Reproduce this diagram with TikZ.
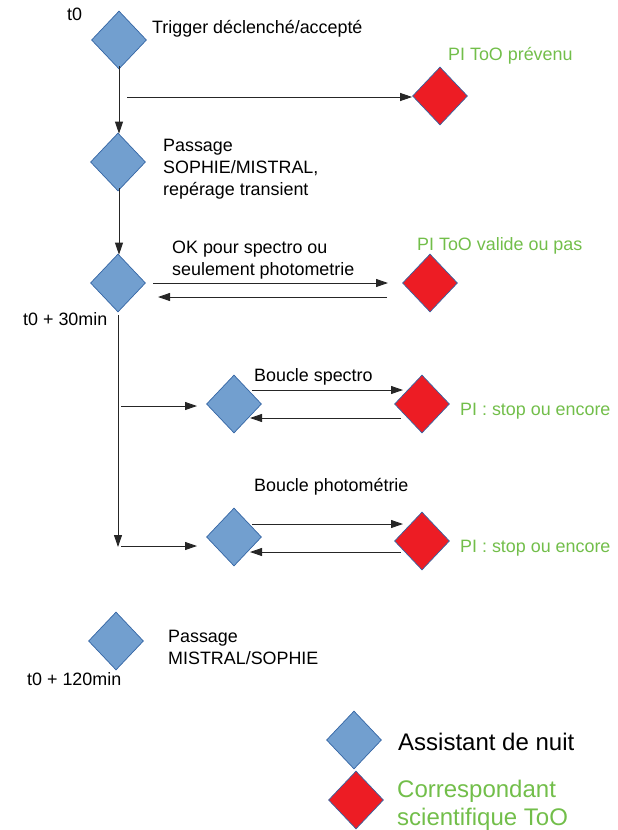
\documentclass[tikz,border=0pt]{standalone}
\usepackage{fontspec}
\setmainfont{Liberation Sans}
\usetikzlibrary{shapes.geometric,arrows.meta,calc}
\definecolor{dblue}{HTML}{729FCF}
\definecolor{dred}{HTML}{ED1C24}
\definecolor{dedge}{HTML}{3465A4}
\definecolor{pigreen}{HTML}{72BE4A}
\tikzset{
  dia/.style={diamond, draw=dedge, line width=0.7pt, inner sep=0pt, minimum width=55pt, minimum height=58pt},
  bdia/.style={dia, fill=dblue},
  rdia/.style={dia, fill=dred},
  lbl/.style={anchor=base west, inner sep=0pt, font=\fontsize{17.9}{21.8}\selectfont, align=left},
  glbl/.style={lbl, text=pigreen},
  big/.style={anchor=base west, inner sep=0pt, font=\fontsize{24}{28}\selectfont, align=left},
  arr/.style={draw=black!85, line width=0.9pt, -{Triangle[length=12pt,width=8pt]}}
}
\begin{document}
\begin{tikzpicture}[x=1pt,y=-1pt]
\useasboundingbox (0,0) rectangle (618,830);
% diamonds
\node[bdia] (D1) at (119,40) {};
\node[rdia] (R1) at (440,96) {};
\node[bdia] (D2) at (118,162) {};
\node[bdia] (D3) at (118,283) {};
\node[rdia] (R2) at (430,283) {};
\node[bdia] (D4) at (234,404) {};
\node[rdia] (R3) at (422,404) {};
\node[bdia] (D5) at (234,537) {};
\node[rdia] (R5) at (422,541) {};
\node[bdia] (D6) at (116,641) {};
\node[bdia] (L1) at (354,740) {};
\node[rdia] (L2) at (356,800) {};
% texts (multi-line nodes: base = last line)
\node[lbl] (t0) at (67,20) {t0};
\node[lbl] (trig) at (152,33) {Trigger déclenché/accepté};
\node[glbl] (pi1) at (448,60) {PI ToO prévenu};
\node[lbl] (pass1) at (163,195) {Passage\\SOPHIE/MISTRAL,\\repérage transient};
\node[lbl] (ok) at (172,275) {OK pour spectro ou\\seulement photometrie};
\node[glbl] (pi2) at (417,250) {PI ToO valide ou pas};
\node[lbl] (t30) at (23,325) {t0 + 30min};
\node[lbl] (bs) at (254,381) {Boucle spectro};
\node[glbl] (pi3) at (460,415) {PI : stop ou encore};
\node[lbl] (bp) at (254,491) {Boucle photométrie};
\node[glbl] (pi4) at (460,552) {PI : stop ou encore};
\node[lbl] (pass2) at (168,664) {Passage\\MISTRAL/SOPHIE};
\node[lbl] (t120) at (27,685) {t0 + 120min};
\node[big] (leg1) at (398,750) {Assistant de nuit};
\node[big, text=pigreen] (leg2) at (397,825) {Correspondant\\scientifique ToO};
% connectors
\draw[arr] ([yshift=3]D1.south) -- ([yshift=-1]D1.south |- D2.north);
\coordinate (s1) at (127,97);
\draw[arr] (s1) -- (R1.west |- s1);
\draw[arr] ([yshift=3]D1.south |- D2.south) -- ([yshift=-1]D1.south |- D3.north);
\coordinate (c1) at (153,283);
\coordinate (c1e) at (388,283);
\draw[arr] (c1) -- (c1e);
\coordinate (b1) at (387,297);
\coordinate (b1e) at (158,297);
\draw[arr] (b1) -- (b1e);
\coordinate (vtop) at (118,315);
\coordinate (vbot) at (118,547);
\draw[arr] (vtop) -- (vbot);
\coordinate (h1) at (121,406);
\coordinate (h2) at (121,546);
\draw[arr] (h1) -- (h1 -| 197,0);
\draw[arr] (h2) -- (h2 -| 197,0);
% loops
\coordinate (d4r) at (252,0);
\coordinate (r3l) at (403,0);
\coordinate (d4b) at (250,0);
\coordinate (r3b) at (401,0);
\coordinate (a1) at (252,390);
\draw[arr] (a1) -- (a1 -| r3l);
\coordinate (a2) at (401,418);
\draw[arr] (a2) -- (a2 -| d4b);
\coordinate (a3) at (252,524);
\draw[arr] (a3) -- (a3 -| r3l);
\coordinate (a4) at (401,552);
\draw[arr] (a4) -- (a4 -| d4b);
\end{tikzpicture}
\end{document}
